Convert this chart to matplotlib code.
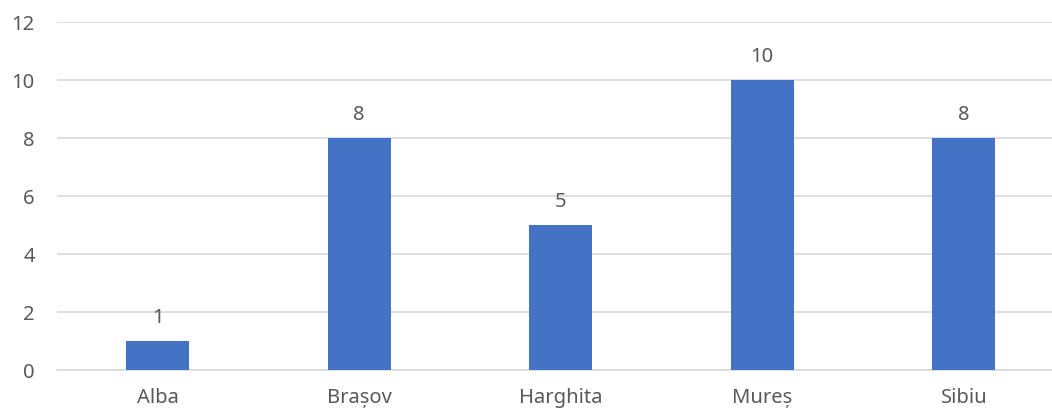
import matplotlib
matplotlib.use("Agg")
import matplotlib.pyplot as plt

categories = ["Alba", "Brașov", "Harghita", "Mureș", "Sibiu"]
values = [1, 8, 5, 10, 8]
yticks = [0, 2, 4, 6, 8, 10, 12]

plt.rcParams['font.family'] = ['Noto Sans', 'DejaVu Sans']
text_color = "#595959"
fs = 14.5

fig = plt.figure(figsize=(10.52, 4.12), dpi=100)
ax = fig.add_axes([57/1052, 42/412, 1007.5/1052, 348/412])

x = list(range(len(categories)))
bars = ax.bar(x, values, width=0.313, color="#4472C4", zorder=3)
ax.set_xlim(-0.5, len(categories) - 0.5)
ax.set_ylim(0, 12)
ax.set_yticks(yticks)
ax.set_xticks(x)
ax.set_xticklabels(categories)
ax.grid(axis='y', color="#D9D9D9", linewidth=1.2, zorder=0)
ax.set_axisbelow(True)
for s in ["top", "right", "left"]:
    ax.spines[s].set_visible(False)
ax.spines["bottom"].set_color("#D9D9D9")
ax.spines["bottom"].set_linewidth(1.2)
ax.tick_params(axis='both', length=0, colors=text_color, labelsize=fs)
ax.tick_params(axis='x', pad=13)
ax.tick_params(axis='y', pad=16)

for xi, v in zip(x, values):
    ax.annotate(str(v), (xi, v), xytext=(0, 9.5), textcoords="offset points",
                ha="center", va="bottom", color=text_color, fontsize=fs)

fig.savefig("out.png", dpi=100)
